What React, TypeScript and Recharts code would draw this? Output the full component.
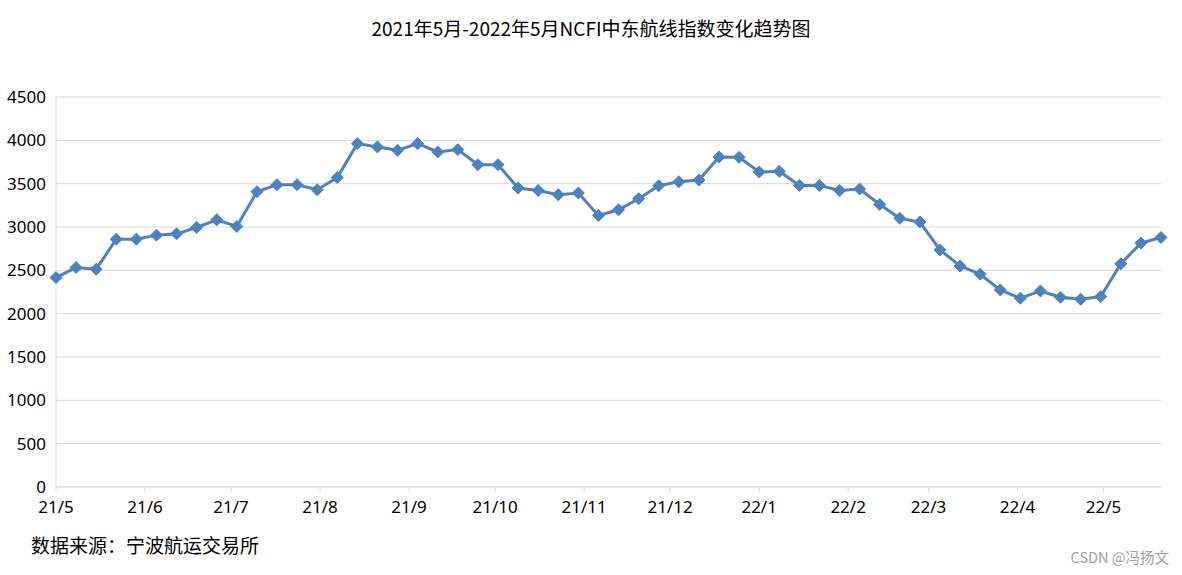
import React from "react";
import { LineChart, Line, XAxis, YAxis, CartesianGrid } from "recharts";

const weekDates = [
  "2021-05-01", "2021-05-08", "2021-05-15", "2021-05-22", "2021-05-29",
  "2021-06-05", "2021-06-12", "2021-06-19", "2021-06-26",
  "2021-07-03", "2021-07-10", "2021-07-17", "2021-07-24", "2021-07-31",
  "2021-08-07", "2021-08-14", "2021-08-21", "2021-08-28",
  "2021-09-04", "2021-09-11", "2021-09-18", "2021-09-25",
  "2021-10-02", "2021-10-09", "2021-10-16", "2021-10-23", "2021-10-30",
  "2021-11-06", "2021-11-13", "2021-11-20", "2021-11-27",
  "2021-12-04", "2021-12-11", "2021-12-18", "2021-12-25",
  "2022-01-01", "2022-01-08", "2022-01-15", "2022-01-22", "2022-01-29",
  "2022-02-05", "2022-02-12", "2022-02-19", "2022-02-26",
  "2022-03-05", "2022-03-12", "2022-03-19", "2022-03-26",
  "2022-04-02", "2022-04-09", "2022-04-16", "2022-04-23", "2022-04-30",
  "2022-05-07", "2022-05-14", "2022-05-21",
];

const ncfiValues = [
  2416, 2532, 2513, 2860, 2860,
  2906, 2921, 2994, 3083,
  3006, 3407, 3488, 3488, 3430,
  3570, 3962, 3924, 3885,
  3962, 3866, 3893, 3719,
  3719, 3450, 3422, 3372, 3392,
  3133, 3199, 3326, 3476,
  3522, 3542, 3808, 3804,
  3635, 3642, 3480, 3480, 3422,
  3438, 3260, 3100, 3057,
  2736, 2551, 2455, 2274,
  2178, 2262, 2189, 2166, 2197,
  2575, 2814, 2879,
];

const monthTickDates = [
  "2021-05-01", "2021-06-01", "2021-07-01", "2021-08-01", "2021-09-01",
  "2021-10-01", "2021-11-01", "2021-12-01", "2022-01-01", "2022-02-01",
  "2022-03-01", "2022-04-01", "2022-05-01",
];

const monthTickLabels = [
  "21/5", "21/6", "21/7", "21/8", "21/9", "21/10", "21/11", "21/12",
  "22/1", "22/2", "22/3", "22/4", "22/5",
];

const yTicks = [0, 500, 1000, 1500, 2000, 2500, 3000, 3500, 4000, 4500];

const titleText = "2021年5月-2022年5月NCFI中东航线指数变化趋势图";
const sourceText = "数据来源：宁波航运交易所";
const watermarkText = "CSDN @冯扬文";

const toTs = (d: string) => Date.parse(d + "T00:00:00Z");
const data = weekDates.map((d, i) => ({ t: toTs(d), v: ncfiValues[i] }));
const tickTs = monthTickDates.map(toTs);
const labelByTs = new Map<number, string>(tickTs.map((t, i) => [t, monthTickLabels[i]]));

const LINE_COLOR = "#4f81bd";
const GRID_COLOR = "#d9d9d9";

const Diamond = (props: any) => {
  const { cx, cy, index } = props;
  if (cx == null || cy == null) return <g key={`e-${index}`} />;
  const r = 6;
  return (
    <path
      key={`d-${index}`}
      d={`M${cx},${cy - r}L${cx + r},${cy}L${cx},${cy + r}L${cx - r},${cy}Z`}
      fill={LINE_COLOR}
      stroke={LINE_COLOR}
      strokeWidth={1}
    />
  );
};

export default function App() {
  return (
    <div
      style={{
        position: "absolute",
        left: 0,
        top: 0,
        width: 1182,
        height: 575,
        background: "#ffffff",
        overflow: "hidden",
      }}
    >
      <LineChart
        width={1182}
        height={575}
        data={data}
        margin={{ top: 97, right: 21, bottom: 58, left: 6 }}
      >
        <CartesianGrid vertical={false} stroke={GRID_COLOR} />
        <XAxis
          dataKey="t"
          type="number"
          scale="linear"
          domain={[data[0].t, data[data.length - 1].t]}
          ticks={tickTs}
          interval={0}
          tickFormatter={(t: number) => labelByTs.get(t) ?? ""}
          stroke={GRID_COLOR}
          tickSize={5}
          tickMargin={9}
          height={30}
          tick={{ fill: "#000000", fontSize: 17, fontFamily: "Noto Sans" }}
        />
        <YAxis
          type="number"
          domain={[0, 4500]}
          ticks={yTicks}
          interval={0}
          width={50}
          stroke={GRID_COLOR}
          tickLine={false}
          tickMargin={4}
          tick={{ fill: "#000000", fontSize: 17, fontFamily: "Noto Sans" }}
        />
        <Line
          type="linear"
          dataKey="v"
          stroke={LINE_COLOR}
          strokeWidth={3}
          dot={Diamond}
          activeDot={false}
          isAnimationActive={false}
        />
      </LineChart>
      <div
        style={{
          position: "absolute",
          left: 0,
          top: 18,
          width: 1182,
          textAlign: "center",
          fontFamily: "'Noto Sans CJK SC', sans-serif",
          fontSize: 19,
          lineHeight: "20px",
          color: "#000",
        }}
      >
        {titleText}
      </div>
      <div
        style={{
          position: "absolute",
          left: 31,
          top: 535,
          fontFamily: "'Noto Sans CJK SC', sans-serif",
          fontSize: 19,
          lineHeight: "20px",
          color: "#000",
          whiteSpace: "nowrap",
        }}
      >
        {sourceText}
      </div>
      <div
        style={{
          position: "absolute",
          right: 13,
          top: 549,
          fontFamily: "'Noto Sans CJK SC', sans-serif",
          fontSize: 14.5,
          lineHeight: "16px",
          color: "#a0a0a0",
          whiteSpace: "nowrap",
        }}
      >
        {watermarkText}
      </div>
    </div>
  );
}
